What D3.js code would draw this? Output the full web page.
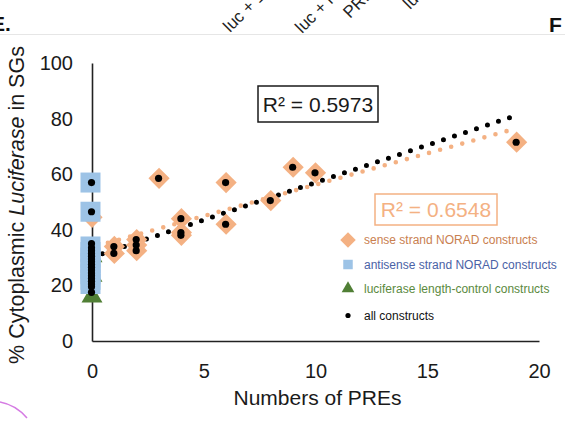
<!DOCTYPE html>
<html>
<head>
<meta charset="utf-8">
<script src="https://cdn.jsdelivr.net/npm/d3@7"></script>
<style>
  html, body { margin: 0; padding: 0; background: #fff; }
  svg { display: block; }
  text { font-family: "Liberation Sans", Arial, sans-serif; }
</style>
</head>
<body>
<svg id="chart" width="565" height="423"></svg>
<script>
// ---- data ----
const xTicks = [0, 5, 10, 15, 20];
const yTicks = [0, 20, 40, 60, 80, 100];

// sense strand NORAD constructs
const senseX = [0, 1, 1, 2, 2, 2, 3, 4, 4, 4, 6, 6, 8, 9, 10, 19];
const senseY = [44.5, 34, 31.5, 36.5, 34.5, 32.5, 58.5, 44, 39, 38, 57, 42, 50.5, 62.5, 60.5, 71.5];

// antisense strand NORAD constructs
const antiX = [0, 0, 0, 0, 0, 0, 0, 0, 0, 0];
const antiY = [57, 46.5, 34, 32, 30, 28, 26, 24, 22, 20.5];

// luciferase length-control constructs
const lucX = [0, 0, 0];
const lucY = [16, 23.5, 30.5];

// all constructs
const allX = [0, 0, 0, 0, 0, 0, 0, 0, 0, 0, 0, 0, 0, 0, 0, 0, 0, 0, 0,
              1, 1, 2, 2, 2, 3, 4, 4, 4, 6, 6, 8, 9, 10, 19];
const allY = [57, 46.5, 35, 33.5, 32.5, 31.5, 30.5, 29.5, 28.5, 27.5, 26.5, 25.5, 24.5, 23.5, 22.5, 21.5, 20.5, 19.5, 17.5,
              34, 31.5, 36.5, 34.5, 32.5, 58.5, 44, 39, 38, 57, 42, 50.5, 62.5, 60.5, 71.5];

// linear trend lines (end points over the x range)
const trendX = [0, 19];
const trendAllY = [30.1, 81.2];
const trendSenseY = [33.7, 76.5];
const r2All = "R² = 0.5973";
const r2Sense = "R² = 0.6548";

const legendLabels = [
  "sense strand NORAD constructs",
  "antisense strand NORAD constructs",
  "luciferase length-control constructs",
  "all constructs"
];

// ---- colours ----
const cSense = "#F4B183", cAnti = "#9DC3E6", cLuc = "#507F35", cAll = "#000";
const legendText = ["#C98050", "#4A62A6", "#5B8A3E", "#111"];

const svg = d3.select("#chart");
const x = d3.scaleLinear().domain([0, 20]).range([92, 539]);
const y = d3.scaleLinear().domain([0, 100]).range([341, 63]);

// ---- fragments of neighbouring panels ----
svg.append("line").attr("x1", 0).attr("x2", 565).attr("y1", 34.5).attr("y2", 34.5)
  .attr("stroke", "#e6e6e6").attr("stroke-width", 1);
svg.append("text").attr("x", -9).attr("y", 31).attr("font-size", 21).attr("font-weight", "bold")
  .attr("fill", "#111").text("E.");
svg.append("text").attr("x", 549).attr("y", 32).attr("font-size", 21).attr("font-weight", "bold")
  .attr("fill", "#111").text("F");
const colLabels = [
  { t: "luc + 1 PRE", px: 230, py: 33 },
  { t: "luc + NORAD", px: 302, py: 34 },
  { t: "PRE", px: 350, py: 19 },
  { t: "luc", px: 410, py: 10 }
];
svg.selectAll("text.col").data(colLabels).join("text")
  .attr("class", "col")
  .attr("transform", d => `translate(${d.px},${d.py}) rotate(-45)`)
  .attr("font-size", 17).attr("fill", "#222").text(d => d.t);
svg.append("path").attr("d", "M0,402 Q16,405 27,418")
  .attr("fill", "none").attr("stroke", "#D57BE3").attr("stroke-width", 1.5);

// ---- axes ----
const yAxis = svg.append("g").attr("transform", `translate(${x(0)},0)`)
  .call(d3.axisLeft(y).tickValues(yTicks).tickSize(0).tickPadding(19));
const xAxis = svg.append("g").attr("transform", `translate(0,${y(0)})`)
  .call(d3.axisBottom(x).tickValues(xTicks).tickSize(0).tickPadding(23));
[yAxis, xAxis].forEach(g => {
  g.select(".domain").attr("stroke", "#222").attr("stroke-width", 1.6);
  g.selectAll("text").attr("font-size", 20).attr("fill", "#1a1a1a")
    .attr("font-family", "'Liberation Sans', Arial, sans-serif");
});

svg.append("text").attr("x", (x(0) + x(20)) / 2 + 2).attr("y", 405)
  .attr("text-anchor", "middle").attr("font-size", 21).attr("fill", "#1a1a1a")
  .text("Numbers of PREs");

const yTitle = svg.append("text")
  .attr("transform", "translate(24,205) rotate(-90)")
  .attr("text-anchor", "middle").attr("font-size", 21.5).attr("fill", "#1a1a1a");
yTitle.append("tspan").text("% Cytoplasmic ");
yTitle.append("tspan").attr("font-style", "italic").text("Luciferase");
yTitle.append("tspan").text(" in SGs");

// ---- trend lines (round-dot pattern) ----
const line = d3.line().x(d => x(d[0])).y(d => y(d[1]));
svg.append("path").datum(trendX.map((v, i) => [v, trendSenseY[i]]))
  .attr("d", line).attr("fill", "none").attr("stroke", cSense)
  .attr("stroke-width", 4.6).attr("stroke-linecap", "round").attr("stroke-dasharray", "0 11.5")
  .attr("stroke-dashoffset", -5);
svg.append("path").datum(trendX.map((v, i) => [v, trendAllY[i]]))
  .attr("d", line).attr("fill", "none").attr("stroke", cAll)
  .attr("stroke-width", 5).attr("stroke-linecap", "round").attr("stroke-dasharray", "0 11.6")
  .attr("stroke-dashoffset", -11);

// ---- markers ----
const diamond = d3.symbol().type(d3.symbolSquare).size(225)();
const square = d3.symbol().type(d3.symbolSquare).size(400)();
const triangle = d3.symbol().type(d3.symbolTriangle).size(190)();

svg.append("g").selectAll("path").data(senseX.map((v, i) => [v, senseY[i]])).join("path")
  .attr("d", diamond).attr("fill", cSense)
  .attr("transform", d => `translate(${x(d[0])},${y(d[1])}) rotate(45)`);

svg.append("g").selectAll("path").data(lucX.map((v, i) => [v, lucY[i]])).join("path")
  .attr("d", triangle).attr("fill", cLuc)
  .attr("transform", d => `translate(${x(d[0])},${y(d[1])})`);

svg.append("g").selectAll("path").data(antiX.map((v, i) => [v, antiY[i]])).join("path")
  .attr("d", square).attr("fill", cAnti)
  .attr("transform", d => `translate(${x(d[0]) - 1.5},${y(d[1])})`);

svg.append("g").selectAll("circle").data(allX.map((v, i) => [v, allY[i]])).join("circle")
  .attr("cx", d => x(d[0]) - 0.5).attr("cy", d => y(d[1])).attr("r", 3.6).attr("fill", cAll);

// ---- R² labels ----
function r2Box(text, bx, by, bw, bh, color) {
  svg.append("rect").attr("x", bx).attr("y", by).attr("width", bw).attr("height", bh)
    .attr("fill", "#fff").attr("stroke", color).attr("stroke-width", 1.5);
  svg.append("text").attr("x", bx + bw / 2).attr("y", by + bh / 2 + 7.5)
    .attr("text-anchor", "middle").attr("font-size", 21).attr("fill", color).text(text);
}
r2Box(r2All, 258, 86, 120, 36, "#1a1a1a");
r2Box(r2Sense, 375, 194, 122, 31, cSense);

// ---- legend ----
const legY = [240, 264.5, 288.5, 315.5];
const lg = svg.append("g");
lg.append("path").attr("d", d3.symbol().type(d3.symbolSquare).size(120)())
  .attr("fill", cSense).attr("transform", `translate(348,${legY[0]}) rotate(45)`);
lg.append("path").attr("d", d3.symbol().type(d3.symbolSquare).size(90)())
  .attr("fill", cAnti).attr("transform", `translate(348,${legY[1]})`);
lg.append("path").attr("d", d3.symbol().type(d3.symbolTriangle).size(70)())
  .attr("fill", cLuc).attr("transform", `translate(348,${legY[2]})`);
lg.append("circle").attr("cx", 348).attr("cy", legY[3]).attr("r", 2.6).attr("fill", cAll);
lg.selectAll("text").data(legendLabels).join("text")
  .attr("x", 364).attr("y", (d, i) => legY[i] + 4)
  .attr("font-size", 12).attr("fill", (d, i) => legendText[i]).text(d => d);
</script>
</body>
</html>
